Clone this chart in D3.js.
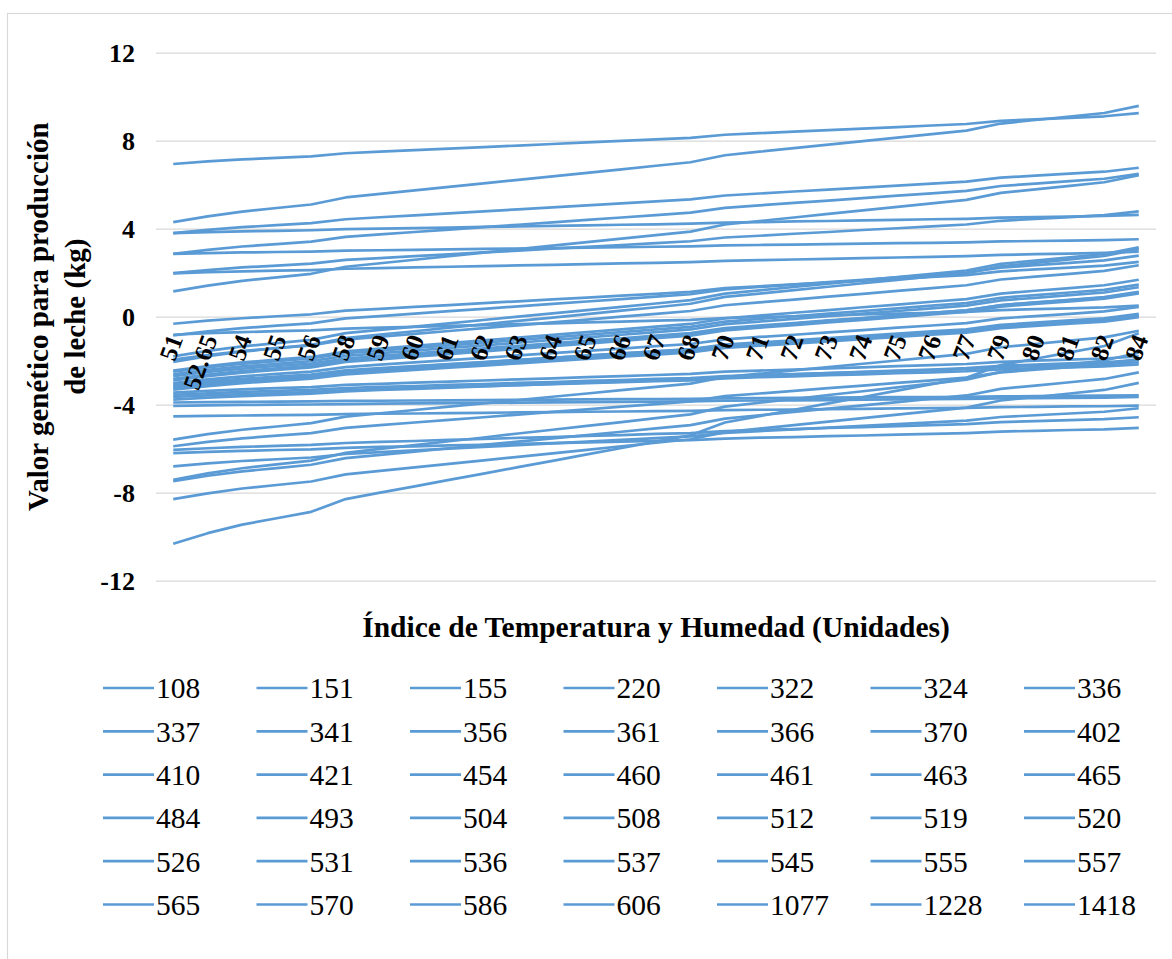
<!DOCTYPE html>
<html>
<head>
<meta charset="utf-8">
<script src="https://cdn.jsdelivr.net/npm/d3@7"></script>
<style>
  html, body { margin: 0; padding: 0; background: #fff; }
  svg { display: block; }
</style>
</head>
<body>
<svg id="chart" width="1172" height="959"></svg>
<script>
// Temperature-humidity index categories (x axis)
const categories = ["51","52.65","54","55","56","58","59","60","61","62","63","64","65","66","67","68","70","71","72","73","74","75","76","77","79","80","81","82","84"];
const yTicks = [-12, -8, -4, 0, 4, 8, 12];

// Genetic value for milk yield (kg) per animal, one value per THI category
const animal108  = [6.94,7.06,7.15,7.22,7.29,7.43,7.50,7.57,7.64,7.71,7.78,7.85,7.92,7.99,8.06,8.13,8.27,8.34,8.41,8.48,8.55,8.62,8.69,8.76,8.90,8.97,9.04,9.11,9.25];
const animal151  = [4.30,4.56,4.78,4.94,5.10,5.42,5.58,5.74,5.90,6.06,6.22,6.38,6.54,6.70,6.86,7.02,7.34,7.50,7.66,7.82,7.98,8.14,8.30,8.46,8.78,8.94,9.10,9.26,9.58];
const animal155  = [3.80,3.95,4.07,4.16,4.25,4.43,4.52,4.61,4.70,4.79,4.88,4.97,5.06,5.15,5.24,5.33,5.51,5.60,5.69,5.78,5.87,5.96,6.05,6.14,6.32,6.41,6.50,6.59,6.77];
const animal220  = [3.80,3.84,3.88,3.90,3.93,3.98,4.00,4.03,4.05,4.08,4.10,4.13,4.15,4.18,4.20,4.23,4.28,4.30,4.33,4.35,4.38,4.40,4.43,4.45,4.50,4.53,4.55,4.58,4.63];
const animal322  = [2.86,3.04,3.19,3.30,3.41,3.63,3.74,3.85,3.96,4.07,4.18,4.29,4.40,4.51,4.62,4.73,4.95,5.06,5.17,5.28,5.39,5.50,5.61,5.72,5.94,6.05,6.16,6.27,6.49];
const animal324  = [2.86,2.89,2.92,2.94,2.96,3.00,3.02,3.04,3.06,3.08,3.10,3.12,3.14,3.16,3.18,3.20,3.24,3.26,3.28,3.30,3.32,3.34,3.36,3.38,3.42,3.44,3.46,3.48,3.52];
const animal336  = [1.98,2.12,2.24,2.32,2.41,2.58,2.66,2.75,2.83,2.92,3.00,3.09,3.17,3.26,3.34,3.43,3.60,3.68,3.77,3.85,3.94,4.02,4.11,4.19,4.36,4.45,4.53,4.62,4.79];
const animal337  = [1.97,2.02,2.06,2.09,2.12,2.18,2.21,2.24,2.27,2.30,2.33,2.36,2.39,2.42,2.45,2.48,2.54,2.57,2.60,2.63,2.66,2.69,2.72,2.75,2.81,2.84,2.87,2.90,2.96];
const animal341  = [1.15,1.41,1.63,1.79,1.95,2.27,2.43,2.59,2.75,2.91,3.07,3.23,3.39,3.55,3.71,3.87,4.19,4.35,4.51,4.67,4.83,4.99,5.15,5.31,5.63,5.79,5.95,6.11,6.43];
const animal356  = [-0.32,-0.18,-0.07,0.02,0.11,0.28,0.36,0.45,0.53,0.62,0.70,0.79,0.87,0.96,1.04,1.13,1.30,1.38,1.47,1.55,1.64,1.72,1.81,1.89,2.06,2.15,2.23,2.32,2.49];
const animal361  = [-0.85,-0.67,-0.52,-0.41,-0.30,-0.08,0.03,0.14,0.25,0.36,0.47,0.58,0.69,0.80,0.91,1.02,1.24,1.35,1.46,1.57,1.68,1.79,1.90,2.01,2.23,2.34,2.45,2.56,2.78];
const animal366  = [-0.82,-0.75,-0.70,-0.66,-0.62,-0.54,-0.50,-0.46,-0.42,-0.38,-0.34,-0.30,-0.26,-0.22,-0.18,-0.14,-0.06,-0.02,0.02,0.06,0.10,0.14,0.18,0.22,0.30,0.34,0.38,0.42,0.50];
const animal370  = [-10.32,-9.84,-9.45,-9.16,-8.87,-8.29,-8.00,-7.71,-7.42,-7.13,-6.84,-6.55,-6.26,-5.97,-5.68,-5.39,-4.81,-4.52,-4.23,-3.94,-3.65,-3.36,-3.07,-2.78,-2.20,-1.91,-1.62,-1.33,-0.75];
const animal402  = [-8.29,-8.03,-7.81,-7.65,-7.49,-7.17,-7.01,-6.85,-6.69,-6.53,-6.37,-6.21,-6.05,-5.89,-5.73,-5.57,-5.25,-5.09,-4.93,-4.77,-4.61,-4.45,-4.29,-4.13,-3.81,-3.65,-3.49,-3.33,-3.01];
const animal410  = [-7.48,-7.23,-7.03,-6.88,-6.73,-6.43,-6.28,-6.13,-5.98,-5.83,-5.68,-5.53,-5.38,-5.23,-5.08,-4.93,-4.63,-4.48,-4.33,-4.18,-4.03,-3.88,-3.73,-3.58,-3.28,-3.13,-2.98,-2.83,-2.53];
const animal421  = [-7.41,-7.12,-6.89,-6.71,-6.54,-6.19,-6.01,-5.84,-5.66,-5.49,-5.31,-5.14,-4.96,-4.79,-4.61,-4.44,-4.09,-3.91,-3.74,-3.56,-3.39,-3.21,-3.04,-2.86,-2.51,-2.34,-2.16,-1.99,-1.64];
const animal454  = [-6.80,-6.67,-6.56,-6.48,-6.40,-6.24,-6.16,-6.08,-6.00,-5.92,-5.84,-5.76,-5.68,-5.60,-5.52,-5.44,-5.28,-5.20,-5.12,-5.04,-4.96,-4.88,-4.80,-4.72,-4.56,-4.48,-4.40,-4.32,-4.16];
const animal460  = [-6.20,-6.14,-6.10,-6.06,-6.03,-5.96,-5.92,-5.89,-5.85,-5.82,-5.78,-5.75,-5.71,-5.68,-5.64,-5.61,-5.54,-5.50,-5.47,-5.43,-5.40,-5.36,-5.33,-5.29,-5.22,-5.19,-5.15,-5.12,-5.05];
const animal461  = [-6.05,-5.98,-5.92,-5.87,-5.83,-5.74,-5.69,-5.65,-5.60,-5.56,-5.51,-5.47,-5.42,-5.38,-5.33,-5.29,-5.20,-5.15,-5.11,-5.06,-5.02,-4.97,-4.93,-4.88,-4.79,-4.75,-4.70,-4.66,-4.57];
const animal463  = [-5.89,-5.69,-5.53,-5.41,-5.29,-5.05,-4.93,-4.81,-4.69,-4.57,-4.45,-4.33,-4.21,-4.09,-3.97,-3.85,-3.61,-3.49,-3.37,-3.25,-3.13,-3.01,-2.89,-2.77,-2.53,-2.41,-2.29,-2.17,-1.93];
const animal465  = [-5.59,-5.34,-5.14,-4.99,-4.84,-4.54,-4.39,-4.24,-4.09,-3.94,-3.79,-3.64,-3.49,-3.34,-3.19,-3.04,-2.74,-2.59,-2.44,-2.29,-2.14,-1.99,-1.84,-1.69,-1.39,-1.24,-1.09,-0.94,-0.64];
const animal484  = [-4.53,-4.51,-4.49,-4.47,-4.46,-4.43,-4.41,-4.40,-4.38,-4.37,-4.35,-4.34,-4.32,-4.31,-4.29,-4.28,-4.25,-4.23,-4.22,-4.20,-4.19,-4.17,-4.16,-4.14,-4.11,-4.10,-4.08,-4.07,-4.04];
const animal493  = [-1.80,-1.55,-1.35,-1.20,-1.05,-0.75,-0.60,-0.45,-0.30,-0.15,0.00,0.15,0.30,0.45,0.60,0.75,1.05,1.20,1.35,1.50,1.65,1.80,1.95,2.10,2.40,2.55,2.70,2.85,3.15];
const animal504  = [-2.05,-1.79,-1.59,-1.43,-1.28,-0.97,-0.81,-0.66,-0.50,-0.35,-0.19,-0.04,0.12,0.28,0.43,0.59,0.90,1.05,1.21,1.36,1.52,1.67,1.83,1.98,2.29,2.45,2.60,2.76,3.07];
const animal508  = [-1.95,-1.74,-1.56,-1.43,-1.30,-1.04,-0.91,-0.78,-0.65,-0.52,-0.39,-0.26,-0.13,0.00,0.13,0.26,0.52,0.65,0.78,0.91,1.04,1.17,1.30,1.43,1.69,1.82,1.95,2.08,2.34];
const animal512  = [-2.45,-2.24,-2.08,-1.95,-1.83,-1.58,-1.45,-1.33,-1.20,-1.08,-0.95,-0.83,-0.70,-0.58,-0.45,-0.33,-0.08,0.05,0.18,0.30,0.43,0.55,0.68,0.80,1.05,1.18,1.30,1.43,1.68];
const animal519  = [-2.50,-2.30,-2.14,-2.02,-1.90,-1.66,-1.54,-1.42,-1.30,-1.18,-1.06,-0.94,-0.82,-0.70,-0.58,-0.46,-0.22,-0.10,0.02,0.14,0.26,0.38,0.50,0.62,0.86,0.98,1.10,1.22,1.46];
const animal520  = [-2.62,-2.42,-2.26,-2.14,-2.02,-1.78,-1.66,-1.54,-1.42,-1.30,-1.18,-1.06,-0.94,-0.82,-0.70,-0.58,-0.34,-0.22,-0.10,0.02,0.14,0.26,0.38,0.50,0.74,0.86,0.98,1.10,1.34];
const animal526  = [-2.70,-2.51,-2.36,-2.24,-2.13,-1.90,-1.78,-1.67,-1.55,-1.44,-1.32,-1.21,-1.09,-0.98,-0.86,-0.75,-0.52,-0.40,-0.29,-0.17,-0.06,0.06,0.18,0.29,0.52,0.64,0.75,0.87,1.10];
const animal531  = [-2.83,-2.63,-2.47,-2.35,-2.23,-1.99,-1.87,-1.75,-1.63,-1.51,-1.39,-1.27,-1.15,-1.03,-0.91,-0.79,-0.55,-0.43,-0.31,-0.19,-0.07,0.05,0.17,0.29,0.53,0.65,0.77,0.89,1.13];
const animal536  = [-2.90,-2.70,-2.54,-2.42,-2.30,-2.06,-1.94,-1.82,-1.70,-1.58,-1.46,-1.34,-1.22,-1.10,-0.98,-0.86,-0.62,-0.50,-0.38,-0.26,-0.14,-0.02,0.10,0.22,0.46,0.58,0.70,0.82,1.06];
const animal537  = [-3.02,-2.85,-2.71,-2.60,-2.50,-2.29,-2.18,-2.08,-1.97,-1.87,-1.76,-1.66,-1.55,-1.45,-1.34,-1.24,-1.03,-0.92,-0.82,-0.71,-0.61,-0.50,-0.40,-0.29,-0.08,0.03,0.13,0.24,0.45];
const animal545  = [-3.10,-2.94,-2.82,-2.72,-2.63,-2.44,-2.34,-2.25,-2.15,-2.06,-1.96,-1.87,-1.77,-1.68,-1.58,-1.49,-1.30,-1.20,-1.11,-1.01,-0.92,-0.82,-0.73,-0.63,-0.44,-0.35,-0.25,-0.16,0.04];
const animal555  = [-3.17,-3.01,-2.87,-2.77,-2.67,-2.47,-2.37,-2.27,-2.17,-2.07,-1.97,-1.87,-1.77,-1.67,-1.57,-1.47,-1.27,-1.17,-1.07,-0.97,-0.87,-0.77,-0.67,-0.57,-0.37,-0.27,-0.17,-0.07,0.13];
const animal557  = [-3.25,-3.09,-2.95,-2.85,-2.75,-2.55,-2.45,-2.35,-2.25,-2.15,-2.05,-1.95,-1.85,-1.75,-1.65,-1.55,-1.35,-1.25,-1.15,-1.05,-0.95,-0.85,-0.75,-0.65,-0.45,-0.35,-0.25,-0.15,0.05];
const animal565  = [-3.32,-3.16,-3.02,-2.92,-2.82,-2.62,-2.52,-2.42,-2.32,-2.22,-2.12,-2.02,-1.92,-1.82,-1.72,-1.62,-1.42,-1.32,-1.22,-1.12,-1.02,-0.92,-0.82,-0.72,-0.52,-0.42,-0.32,-0.22,-0.02];
const animal570  = [-3.45,-3.37,-3.30,-3.25,-3.20,-3.10,-3.05,-3.00,-2.95,-2.90,-2.85,-2.80,-2.75,-2.70,-2.65,-2.60,-2.50,-2.45,-2.40,-2.35,-2.30,-2.25,-2.20,-2.15,-2.05,-2.00,-1.95,-1.90,-1.80];
const animal586  = [-3.55,-3.48,-3.42,-3.37,-3.33,-3.24,-3.19,-3.15,-3.10,-3.06,-3.01,-2.97,-2.92,-2.88,-2.83,-2.79,-2.70,-2.65,-2.61,-2.56,-2.52,-2.47,-2.43,-2.38,-2.29,-2.25,-2.20,-2.16,-2.07];
const animal606  = [-3.65,-3.58,-3.52,-3.47,-3.43,-3.34,-3.29,-3.25,-3.20,-3.16,-3.11,-3.07,-3.02,-2.98,-2.93,-2.89,-2.80,-2.75,-2.71,-2.66,-2.62,-2.57,-2.53,-2.48,-2.39,-2.35,-2.30,-2.26,-2.17];
const animal1077 = [-3.77,-3.68,-3.61,-3.55,-3.50,-3.39,-3.33,-3.28,-3.22,-3.17,-3.11,-3.06,-3.00,-2.95,-2.89,-2.84,-2.73,-2.67,-2.62,-2.56,-2.51,-2.45,-2.40,-2.34,-2.23,-2.18,-2.12,-2.07,-1.96];
const animal1228 = [-3.90,-3.88,-3.87,-3.86,-3.85,-3.83,-3.82,-3.81,-3.80,-3.79,-3.78,-3.77,-3.76,-3.75,-3.74,-3.73,-3.71,-3.70,-3.69,-3.68,-3.67,-3.66,-3.65,-3.64,-3.62,-3.61,-3.60,-3.59,-3.57];
const animal1418 = [-4.05,-4.03,-4.01,-4.00,-3.99,-3.97,-3.95,-3.94,-3.93,-3.92,-3.91,-3.89,-3.88,-3.87,-3.86,-3.85,-3.82,-3.81,-3.80,-3.79,-3.77,-3.76,-3.75,-3.74,-3.71,-3.70,-3.69,-3.68,-3.65];

const seriesNames = ["108","151","155","220","322","324","336","337","341","356","361","366","370","402","410","421","454","460","461","463","465","484","493","504","508","512","519","520","526","531","536","537","545","555","557","565","570","586","606","1077","1228","1418"];
const seriesValues = [animal108, animal151, animal155, animal220, animal322, animal324, animal336, animal337, animal341, animal356, animal361, animal366, animal370, animal402, animal410, animal421, animal454, animal460, animal461, animal463, animal465, animal484, animal493, animal504, animal508, animal512, animal519, animal520, animal526, animal531, animal536, animal537, animal545, animal555, animal557, animal565, animal570, animal586, animal606, animal1077, animal1228, animal1418];

const LINE_COLOR = "#5b9bd5";
const GRID_COLOR = "#d9d9d9";
const FONT = "'Liberation Serif', 'Times New Roman', serif";

const plot = { left: 156, right: 1156, top: 52.7, bottom: 580.7 };
const svg = d3.select("#chart");

// outer chart frame
svg.append("rect")
  .attr("x", 7.5).attr("y", 13.5)
  .attr("width", 1190).attr("height", 970)
  .attr("fill", "#fff").attr("stroke", GRID_COLOR).attr("stroke-width", 1.2);

const x = d3.scaleBand().domain(categories).range([plot.left, plot.right]);
const xc = c => x(c) + x.bandwidth() / 2;
const y = d3.scaleLinear().domain([-12, 12]).range([plot.bottom, plot.top]);

// horizontal gridlines and value labels
const gy = svg.append("g")
  .attr("transform", `translate(${plot.left},0)`)
  .call(d3.axisLeft(y)
    .tickValues(yTicks)
    .tickSize(-(plot.right - plot.left))
    .tickPadding(21)
    .tickFormat(d => String(d)));
gy.select(".domain").remove();
gy.selectAll(".tick line").attr("stroke", GRID_COLOR).attr("stroke-width", 1.3);
gy.selectAll(".tick text")
  .attr("fill", "#000")
  .style("font-family", FONT)
  .style("font-weight", "bold")
  .style("font-size", "26px");

// one line per animal
const line = d3.line()
  .x((d, i) => xc(categories[i]))
  .y(d => y(d));

svg.append("g")
  .selectAll("path")
  .data(seriesValues)
  .join("path")
  .attr("d", line)
  .attr("fill", "none")
  .attr("stroke", LINE_COLOR)
  .attr("stroke-width", 2.7)
  .attr("stroke-linejoin", "round");

// category axis crossing at zero, rotated labels
const gx = svg.append("g")
  .attr("transform", `translate(0,${y(0)})`)
  .call(d3.axisBottom(x).tickSize(0).tickSizeOuter(0));
gx.select(".domain").remove();
gx.selectAll(".tick text")
  .attr("x", 0).attr("y", 0).attr("dy", 0)
  .attr("text-anchor", "end")
  .attr("transform", "translate(10,22) rotate(-70)")
  .attr("fill", "#000")
  .style("font-family", FONT)
  .style("font-weight", "bold")
  .style("font-size", "25px");

// axis titles
svg.append("text")
  .attr("x", (plot.left + plot.right) / 2)
  .attr("y", 637)
  .attr("text-anchor", "middle")
  .style("font-family", FONT)
  .style("font-weight", "bold")
  .style("font-size", "29.5px")
  .text("Índice de Temperatura y Humedad (Unidades)");

const yTitleLines = ["Valor genético para producción", "de leche (kg)"];
svg.append("g")
  .selectAll("text")
  .data(yTitleLines)
  .join("text")
  .attr("transform", (d, i) => `translate(${48 + i * 37},${(plot.top + plot.bottom) / 2}) rotate(-90)`)
  .attr("text-anchor", "middle")
  .style("font-family", FONT)
  .style("font-weight", "bold")
  .style("font-size", "29px")
  .text(d => d);

// legend: 7 columns, row-major
const legend = svg.append("g");
const legendItems = legend.selectAll("g")
  .data(seriesNames)
  .join("g")
  .attr("transform", (d, i) => `translate(${103 + (i % 7) * 153.5},${688 + Math.floor(i / 7) * 43.3})`);
legendItems.append("line")
  .attr("x1", 0).attr("x2", 51)
  .attr("y1", 0).attr("y2", 0)
  .attr("stroke", LINE_COLOR)
  .attr("stroke-width", 2.7);
legendItems.append("text")
  .attr("x", 53)
  .attr("dy", "0.35em")
  .style("font-family", FONT)
  .style("font-size", "29.5px")
  .text(d => d);
</script>
</body>
</html>
